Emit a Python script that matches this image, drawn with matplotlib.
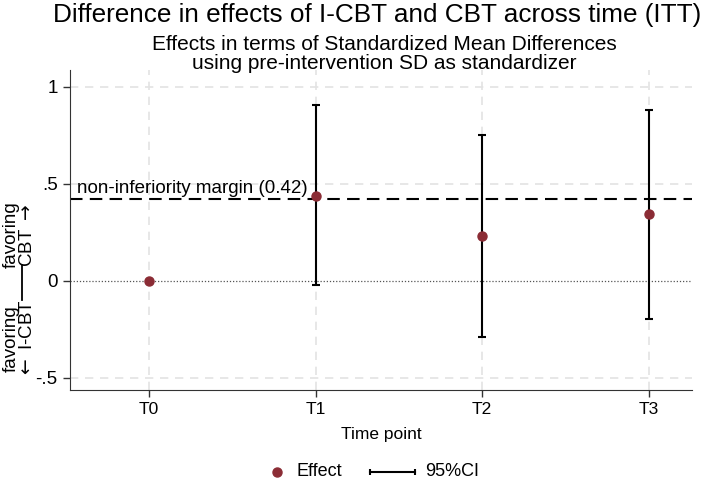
import matplotlib.pyplot as plt
from matplotlib.lines import Line2D

plt.rcParams['font.family'] = ['Liberation Sans', 'DejaVu Sans']

time_points = ["T0", "T1", "T2", "T3"]
effect = [0.0, 0.44, 0.23, 0.345]
ci_low = [None, -0.02, -0.29, -0.195]
ci_high = [None, 0.905, 0.753, 0.88]
margin = 0.42
yticks = [-0.5, 0, 0.5, 1]
ytick_labels = ["-.5", "0", ".5", "1"]

point_color = "#8b2c35"

fig = plt.figure(figsize=(7.08, 4.82), dpi=100)
ax = fig.add_axes([0.0989, 0.191, 0.878, 0.664])

x = list(range(len(time_points)))

# grid
for yv in yticks:
    if yv != 0:
        ax.axhline(yv, color="#e3e3e3", lw=1.2, ls=(0, (5, 4)), zorder=0)
for xv in x:
    ax.axvline(xv, color="#e3e3e3", lw=1.2, ls=(0, (5, 4)), zorder=0)
ax.axhline(0, color="#555555", lw=0.9, ls=(0, (1, 1.5)), zorder=1)

# non-inferiority margin
ax.axhline(margin, color="black", lw=1.5, ls=(0, (6, 3.5)), zorder=2)
ax.text(-0.435, margin + 0.012, "non-inferiority margin (0.42)", fontsize=13.5,
        ha="left", va="bottom", zorder=3)

# CIs
for xi, lo, hi in zip(x, ci_low, ci_high):
    if lo is None:
        continue
    ax.errorbar([xi], [(lo + hi) / 2], yerr=[[(hi - lo) / 2], [(hi - lo) / 2]],
                fmt="none", ecolor="black", elinewidth=1.5, capsize=3,
                capthick=1.5, zorder=3)
ax.plot(x, effect, "o", color=point_color, ms=6.5, zorder=4)

ax.set_xlim(-0.474, 3.258)
ax.set_ylim(-0.562, 1.088)
ax.set_xticks(x)
ax.set_xticklabels(time_points, fontsize=12.5)
ax.set_yticks(yticks)
ax.set_yticklabels(ytick_labels, fontsize=13.5)
ax.tick_params(length=5, width=1, color="#333333", pad=4)
for s in ["top", "right"]:
    ax.spines[s].set_visible(False)
for s in ["left", "bottom"]:
    ax.spines[s].set_color("#333333")
ax.set_xlabel("Time point", fontsize=12.5, labelpad=7)

# y label made of two halves split by a vertical bar at zero
ytr = ax.get_yaxis_transform()
ax.text(-0.082, 0.237, "favoring\nCBT $\\rightarrow$", transform=ytr,
        rotation=90, ha="center", va="center", fontsize=13.5, linespacing=0.95)
ax.text(-0.082, -0.30, "favoring\n$\\leftarrow$ I-CBT", transform=ytr,
        rotation=90, ha="center", va="center", fontsize=13.5, linespacing=0.95)
bar_x = 22 / 708
fig.add_artist(Line2D([bar_x, bar_x], [1 - 300 / 482, 1 - 265 / 482],
                      transform=fig.transFigure, color="black", lw=1.3))

fig.text(0.533, 0.969, "Difference in effects of I-CBT and CBT across time (ITT)",
         ha="center", va="center", fontsize=18.8)
fig.text(0.543, 0.887, "Effects in terms of Standardized Mean Differences\n"
         "using pre-intervention SD as standardizer",
         ha="center", va="center", fontsize=15, linespacing=1.0)

# legend drawn by hand in figure pixels
leg_y = 1 - 472 / 482
W = 708
fig.add_artist(Line2D([277 / W], [leg_y], marker="o", color=point_color,
                      ms=6.5, ls="none", transform=fig.transFigure))
fig.text(297 / W, leg_y, "Effect", ha="left", va="center", fontsize=13)
fig.add_artist(Line2D([370 / W, 415 / W], [leg_y, leg_y], color="black", lw=1.5,
                      marker="|", ms=5, mew=1.5, transform=fig.transFigure))
fig.text(425 / W, leg_y, "95%CI", ha="left", va="center", fontsize=13)

fig.savefig("out.png", dpi=100)
